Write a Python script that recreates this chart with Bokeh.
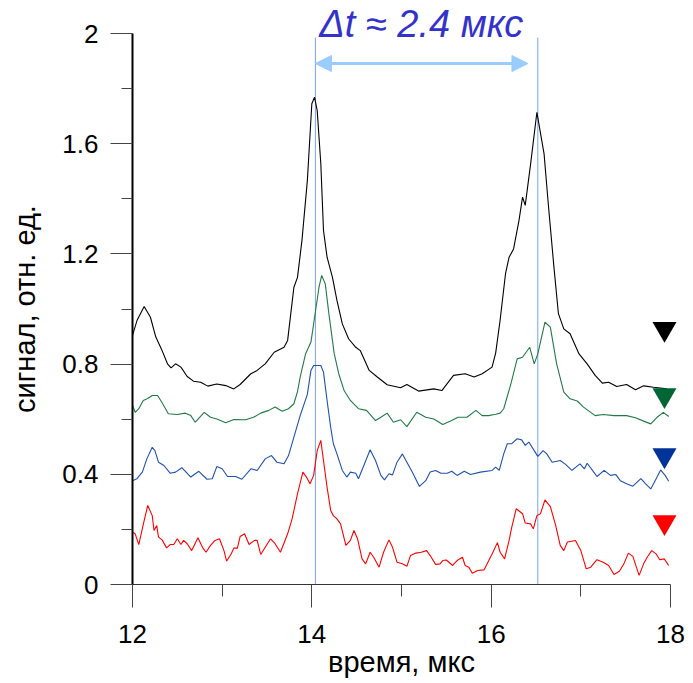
from bokeh.plotting import figure
from bokeh.models import Range1d, FixedTicker, CustomJSTickFormatter, Arrow, NormalHead
from bokeh.core.properties import value
from bokeh.embed import file_html
from bokeh.resources import INLINE

# ---------------- data ----------------
black_t = [12.00, 12.05, 12.13, 12.20, 12.26, 12.33, 12.39, 12.43, 12.48, 12.54, 12.61, 12.68, 12.76, 12.84,
           12.94, 13.04, 13.13, 13.20, 13.32, 13.39, 13.48, 13.58, 13.69, 13.73, 13.80, 13.84, 13.89, 13.95,
           14.00, 14.03, 14.06, 14.10, 14.13, 14.17, 14.23, 14.28, 14.34, 14.41, 14.49, 14.54, 14.64, 14.73,
           14.84, 14.99, 15.06, 15.19, 15.36, 15.45, 15.58, 15.71, 15.81, 15.90, 16.01, 16.05, 16.10, 16.16,
           16.20, 16.25, 16.31, 16.35, 16.38, 16.44, 16.51, 16.59, 16.64, 16.70, 16.75, 16.81, 16.88, 16.98,
           17.07, 17.16, 17.24, 17.31, 17.40, 17.51, 17.61, 17.70, 17.81, 17.96]
black_v = [0.904, 0.958, 1.009, 0.970, 0.898, 0.849, 0.801, 0.786, 0.801, 0.789, 0.755, 0.738, 0.734, 0.720,
           0.728, 0.722, 0.710, 0.726, 0.765, 0.777, 0.801, 0.843, 0.861, 0.886, 1.079, 1.115, 1.249, 1.466,
           1.745, 1.769, 1.720, 1.528, 1.285, 1.188, 1.115, 1.031, 0.946, 0.892, 0.861, 0.849, 0.777, 0.753,
           0.725, 0.714, 0.726, 0.702, 0.710, 0.704, 0.759, 0.765, 0.753, 0.765, 0.789, 0.840, 0.960, 1.128,
           1.188, 1.218, 1.321, 1.406, 1.376, 1.527, 1.714, 1.563, 1.370, 1.152, 0.983, 0.928, 0.910, 0.837,
           0.801, 0.759, 0.731, 0.734, 0.719, 0.726, 0.707, 0.721, 0.716, 0.710]

green_t = [12.00, 12.03, 12.07, 12.12, 12.17, 12.22, 12.28, 12.33, 12.40, 12.50, 12.59, 12.65, 12.70, 12.80,
           12.87, 12.94, 13.04, 13.13, 13.26, 13.35, 13.43, 13.52, 13.59, 13.67, 13.74, 13.80, 13.84, 13.87,
           13.93, 13.99, 14.04, 14.08, 14.11, 14.15, 14.19, 14.25, 14.30, 14.36, 14.43, 14.52, 14.61, 14.71,
           14.77, 14.84, 14.91, 14.99, 15.06, 15.17, 15.27, 15.36, 15.46, 15.56, 15.63, 15.73, 15.83, 15.90,
           15.97, 16.05, 16.10, 16.14, 16.22, 16.29, 16.35, 16.43, 16.48, 16.52, 16.60, 16.66, 16.73, 16.81,
           16.88, 16.96, 17.03, 17.16, 17.25, 17.37, 17.51, 17.61, 17.70, 17.78, 17.85, 17.92, 17.98]
green_v = [0.650, 0.625, 0.638, 0.668, 0.675, 0.686, 0.686, 0.660, 0.620, 0.617, 0.622, 0.613, 0.589, 0.625,
           0.607, 0.601, 0.587, 0.599, 0.598, 0.607, 0.622, 0.632, 0.644, 0.629, 0.638, 0.656, 0.700, 0.753,
           0.837, 0.880, 0.990, 1.079, 1.122, 1.091, 0.983, 0.837, 0.765, 0.704, 0.668, 0.638, 0.632, 0.595,
           0.607, 0.622, 0.589, 0.598, 0.573, 0.625, 0.607, 0.601, 0.581, 0.595, 0.607, 0.607, 0.632, 0.613,
           0.613, 0.618, 0.622, 0.638, 0.728, 0.819, 0.825, 0.861, 0.801, 0.837, 0.952, 0.934, 0.801, 0.698,
           0.674, 0.666, 0.644, 0.613, 0.617, 0.613, 0.613, 0.605, 0.593, 0.583, 0.607, 0.625, 0.610]

blue_t = [12.00, 12.05, 12.11, 12.16, 12.22, 12.25, 12.29, 12.35, 12.42, 12.48, 12.55, 12.65, 12.74, 12.83,
          12.89, 12.94, 13.00, 13.06, 13.15, 13.22, 13.32, 13.39, 13.48, 13.55, 13.61, 13.69, 13.74, 13.80,
          13.87, 13.95, 13.99, 14.02, 14.10, 14.13, 14.17, 14.21, 14.24, 14.28, 14.34, 14.39, 14.43, 14.49,
          14.52, 14.58, 14.65, 14.71, 14.77, 14.81, 14.86, 14.90, 14.95, 15.01, 15.06, 15.12, 15.20, 15.27,
          15.32, 15.38, 15.44, 15.51, 15.56, 15.62, 15.70, 15.77, 15.88, 16.01, 16.05, 16.09, 16.14, 16.18,
          16.23, 16.29, 16.34, 16.38, 16.42, 16.48, 16.52, 16.58, 16.62, 16.68, 16.77, 16.83, 16.90, 16.99,
          17.04, 17.07, 17.13, 17.18, 17.26, 17.33, 17.39, 17.44, 17.51, 17.58, 17.67, 17.72, 17.78, 17.84,
          17.89, 17.94, 17.98]
blue_v = [0.377, 0.384, 0.408, 0.456, 0.498, 0.486, 0.444, 0.432, 0.404, 0.408, 0.424, 0.390, 0.411, 0.382,
          0.384, 0.428, 0.420, 0.392, 0.392, 0.382, 0.420, 0.414, 0.456, 0.468, 0.444, 0.438, 0.468, 0.535,
          0.613, 0.690, 0.777, 0.795, 0.795, 0.771, 0.668, 0.571, 0.511, 0.474, 0.414, 0.390, 0.408, 0.404,
          0.384, 0.432, 0.489, 0.450, 0.396, 0.380, 0.402, 0.398, 0.444, 0.474, 0.444, 0.408, 0.356, 0.377,
          0.408, 0.414, 0.404, 0.404, 0.411, 0.396, 0.411, 0.399, 0.408, 0.414, 0.426, 0.414, 0.474, 0.511,
          0.511, 0.529, 0.525, 0.505, 0.517, 0.486, 0.465, 0.486, 0.474, 0.444, 0.450, 0.436, 0.414, 0.438,
          0.420, 0.440, 0.414, 0.392, 0.414, 0.396, 0.399, 0.377, 0.366, 0.357, 0.384, 0.366, 0.347, 0.384,
          0.416, 0.396, 0.375]

red_t = [12.00, 12.03, 12.07, 12.13, 12.17, 12.22, 12.24, 12.27, 12.29, 12.33, 12.38, 12.42, 12.46, 12.50,
         12.54, 12.57, 12.61, 12.66, 12.73, 12.78, 12.82, 12.87, 12.92, 12.97, 13.02, 13.05, 13.10, 13.13,
         13.17, 13.20, 13.25, 13.30, 13.36, 13.39, 13.43, 13.48, 13.54, 13.59, 13.65, 13.73, 13.78, 13.84,
         13.90, 13.94, 13.98, 14.02, 14.06, 14.10, 14.13, 14.17, 14.21, 14.24, 14.28, 14.32, 14.38, 14.43,
         14.47, 14.51, 14.56, 14.60, 14.65, 14.69, 14.75, 14.80, 14.86, 14.90, 14.95, 15.01, 15.06, 15.10,
         15.16, 15.22, 15.28, 15.32, 15.38, 15.43, 15.46, 15.50, 15.57, 15.62, 15.68, 15.71, 15.75, 15.79,
         15.85, 15.92, 16.01, 16.07, 16.10, 16.15, 16.20, 16.23, 16.28, 16.35, 16.38, 16.44, 16.47, 16.51,
         16.55, 16.60, 16.66, 16.72, 16.77, 16.81, 16.85, 16.94, 17.00, 17.06, 17.11, 17.18, 17.25, 17.31,
         17.37, 17.43, 17.48, 17.53, 17.58, 17.65, 17.70, 17.74, 17.79, 17.84, 17.88, 17.93, 17.98]
red_v = [0.190, 0.184, 0.145, 0.232, 0.287, 0.250, 0.196, 0.214, 0.172, 0.162, 0.133, 0.145, 0.145, 0.166,
         0.145, 0.160, 0.148, 0.123, 0.170, 0.135, 0.117, 0.142, 0.160, 0.166, 0.123, 0.085, 0.111, 0.132,
         0.132, 0.174, 0.184, 0.145, 0.160, 0.160, 0.109, 0.135, 0.166, 0.148, 0.117, 0.184, 0.238, 0.329,
         0.408, 0.390, 0.366, 0.396, 0.486, 0.523, 0.450, 0.353, 0.269, 0.250, 0.238, 0.220, 0.142, 0.160,
         0.196, 0.166, 0.093, 0.075, 0.117, 0.099, 0.063, 0.117, 0.162, 0.135, 0.081, 0.075, 0.066, 0.105,
         0.114, 0.117, 0.123, 0.105, 0.073, 0.075, 0.087, 0.089, 0.069, 0.087, 0.099, 0.069, 0.063, 0.041,
         0.051, 0.053, 0.111, 0.152, 0.117, 0.093, 0.160, 0.208, 0.275, 0.257, 0.223, 0.220, 0.202, 0.250,
         0.257, 0.307, 0.283, 0.214, 0.142, 0.123, 0.154, 0.160, 0.123, 0.057, 0.063, 0.090, 0.081, 0.069,
         0.036, 0.048, 0.075, 0.114, 0.102, 0.033, 0.075, 0.099, 0.123, 0.111, 0.090, 0.093, 0.069]

peak_times = [14.04, 16.52]          # vertical marker lines
marker_line_top = 1.985
arrow_y = 1.891
arrow_x_end = 16.41
label_text = ["Δt ≈ 2.4 мкс"]
label_x, label_y = [15.22], [2.033]

tri_x = [17.933, 17.933, 17.933, 17.933]
tri_y = [0.928, 0.687, 0.469, 0.226]
tri_colors = ["#000000", "#006633", "#003399", "#ff0000"]

x_major = [12, 14, 16, 18]
x_minor = [13, 15, 17]
y_major = [0, 0.4, 0.8, 1.2, 1.6, 2.0]
y_minor = [0.2, 0.6, 1.0, 1.4, 1.8]

FONT = "Liberation Sans"

# ---------------- figure ----------------
p = figure(frame_width=538, frame_height=551,
           x_range=Range1d(12, 18), y_range=Range1d(0, 2),
           output_backend="svg", toolbar_location=None,
           min_border_left=132, min_border_right=23, min_border_top=33, min_border_bottom=99)
p.outline_line_color = None
p.grid.visible = False
p.background_fill_color = "white"
p.border_fill_color = "white"

# vertical marker lines
p.segment(x0=peak_times, y0=[0, 0], x1=peak_times, y1=[marker_line_top] * 2,
          line_color="#7aa3ea", line_width=1)

# curves
p.line(black_t, black_v, line_color="#000000", line_width=1.1)
p.line(green_t, green_v, line_color="#237a46", line_width=1.1)
p.line(blue_t, blue_v, line_color="#2050b0", line_width=1.1)
p.line(red_t, red_v, line_color="#ff0000", line_width=1.1)

# triangle markers
p.scatter(x=tri_x, y=tri_y, marker="inverted_triangle", size=24,
          fill_color=tri_colors, line_color=tri_colors, line_width=0, level="overlay")

# arrow
head_kw = dict(size=16, fill_color="#99ccff", line_color="#99ccff", line_width=1)
p.add_layout(Arrow(start=NormalHead(**head_kw), end=NormalHead(**head_kw),
                   x_start=peak_times[0], y_start=arrow_y, x_end=arrow_x_end, y_end=arrow_y,
                   line_color="#99ccff", line_width=3))

# label (text glyph at overlay level so it is not clipped by the frame)
p.text(x=label_x, y=label_y, text=label_text, text_font=value(FONT),
       text_font_style="italic", text_font_size="38px", text_color="#3333cc",
       text_align="center", text_baseline="alphabetic", level="overlay")

# axes
for ax in (p.xaxis[0], p.yaxis[0]):
    ax.major_label_text_font = FONT
    ax.major_label_text_font_size = "26px"
    ax.major_label_text_color = "#000000"
    ax.axis_label_text_font = FONT
    ax.axis_label_text_font_size = "29px"
    ax.axis_label_text_font_style = "normal"
    ax.axis_label_text_color = "#000000"
    ax.major_tick_in = 0
    ax.minor_tick_in = 0
    ax.major_tick_line_color = "#444444"
    ax.minor_tick_line_color = "#444444"

p.xaxis.ticker = FixedTicker(ticks=x_major, minor_ticks=x_minor)
p.yaxis.ticker = FixedTicker(ticks=y_major, minor_ticks=y_minor)
p.yaxis.formatter = CustomJSTickFormatter(code="return String(Math.round(tick*10)/10);")
p.xaxis.formatter = CustomJSTickFormatter(code="return String(Math.round(tick));")

p.xaxis.axis_label = "время, мкс"
p.yaxis.axis_label = "сигнал, отн. ед."

p.xaxis.major_tick_out = 23
p.xaxis.minor_tick_out = 12
p.xaxis.axis_line_color = "#333333"
p.xaxis.axis_line_width = 1
p.xaxis.major_label_standoff = 17
p.xaxis.axis_label_standoff = 0

p.yaxis.major_tick_out = 22
p.yaxis.minor_tick_out = 11
p.yaxis.axis_line_color = "#000000"
p.yaxis.axis_line_width = 2
p.yaxis.major_label_standoff = 12
p.yaxis.axis_label_standoff = 18

open("out.html", "w").write(file_html(p, INLINE))
